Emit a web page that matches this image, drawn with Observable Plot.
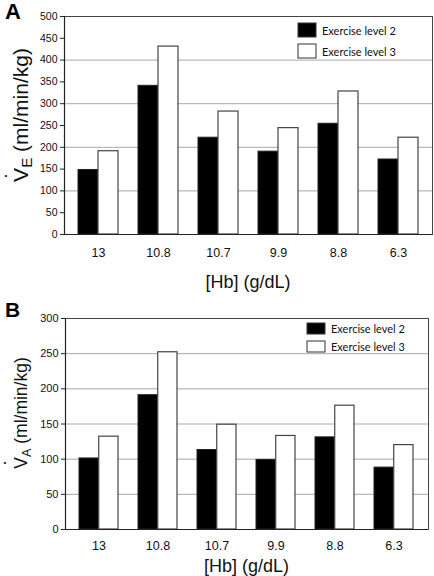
<!DOCTYPE html>
<html><head><meta charset="utf-8">
<script src="https://cdn.jsdelivr.net/npm/d3@7"></script>
<script src="https://cdn.jsdelivr.net/npm/@observablehq/plot@0.6"></script>
<style>
html,body{margin:0;padding:0;background:#fff;}
#root{width:434px;height:576px;position:relative;overflow:hidden;background:#fff;}
#root svg{display:block;position:absolute;left:0;overflow:visible;}
</style></head><body><div id="root"></div>
<script>
// ---- data ----
const hb = ["13", "10.8", "10.7", "9.9", "8.8", "6.3"];
const seriesNames = ["Exercise level 2", "Exercise level 3"];
const veLevel2 = [148, 341, 222, 190, 254, 172];
const veLevel3 = [191, 431, 282, 244, 328, 222];
const vaLevel2 = [101, 191, 113, 99, 131, 88];
const vaLevel3 = [132, 252, 149, 133, 176, 120];
const veTicks = [0, 50, 100, 150, 200, 250, 300, 350, 400, 450, 500];
const veGrid = [100, 200, 300, 400];
const vaTicks = [0, 50, 100, 150, 200, 250, 300];
const vaGrid = [50, 100, 150, 200, 250];

const FONT = "'Liberation Sans', Arial, Helvetica, sans-serif";
const root = d3.select("#root");

function panel(cfg) {
  const {top, height, mt, mb, ml, mr, ymax, ticks, grid, v2, v3, yFont, xFont, xPad,
         letter, letterY, letterSize, sub, ylabX, ylabY, ylabSize, dotX, dotY,
         xlabY, legX, legY, legGap, swW, swH} = cfg;
  const pi = 1 / 3, po = 0.233;
  const step = (434 - ml - mr) / (hb.length - pi + 2 * po);
  const bw = step * (1 - pi);
  const d2 = hb.map((h, i) => ({hb: h, v: v2[i]}));
  const d3v = hb.map((h, i) => ({hb: h, v: v3[i]}));
  const plot = Plot.plot({
    width: 434, height, marginTop: mt, marginBottom: mb, marginLeft: ml, marginRight: mr,
    style: {fontFamily: FONT, background: "transparent", color: "#111", overflow: "visible"},
    x: {domain: hb, paddingInner: pi, paddingOuter: po, align: 0.5, label: null},
    y: {domain: [0, ymax], label: null},
    marks: [
      Plot.ruleY(grid, {stroke: "#a8a8a8", strokeWidth: 1}),
      Plot.frame({stroke: "#444", strokeWidth: 1}),
      Plot.barY(d2, {x: "hb", y: "v", fill: "#000", stroke: "#222", strokeWidth: 1, insetRight: bw / 2}),
      Plot.barY(d3v, {x: "hb", y: "v", fill: "#fff", stroke: "#444", strokeWidth: 1.2, insetLeft: bw / 2}),
      Plot.axisY({ticks, tickSize: 4, tickPadding: 3, fontSize: yFont, label: null, stroke: "#222"}),
      Plot.axisX({tickSize: 0, tickPadding: xPad, fontSize: xFont, label: null}),
      Plot.ruleY([0], {stroke: "#222", strokeWidth: 1.2}),
      Plot.frame({anchor: "left", stroke: "#222", strokeWidth: 1.2})
    ]
  });
  root.node().appendChild(plot);
  const svg = d3.select(plot).style("top", top + "px");

  // panel letter
  svg.append("text").attr("x", 5).attr("y", letterY).attr("text-anchor", "start")
    .style("font-family", FONT).style("font-weight", "bold").style("font-size", letterSize + "px")
    .attr("fill", "#000").text(letter);

  // y label
  const t = svg.append("text")
    .attr("transform", `translate(${ylabX},${ylabY}) rotate(-90)`)
    .attr("text-anchor", "middle").attr("fill", "#111")
    .style("font-family", FONT).style("font-size", ylabSize + "px").style("white-space", "pre");
  t.append("tspan").text("V");
  t.append("tspan").attr("font-size", ylabSize * 0.72).attr("dy", 4).text(sub);
  t.append("tspan").attr("dy", -4).text(" (ml/min/kg)");
  svg.append("text").attr("x", dotX).attr("y", dotY)
    .attr("text-anchor", "middle").attr("dominant-baseline", "central")
    .style("font-family", FONT).style("font-size", "8px").attr("fill", "#111").text("\u2022");

  // x label
  svg.append("text").attr("x", ml + (434 - ml - mr) / 2).attr("y", xlabY)
    .attr("text-anchor", "middle").attr("fill", "#111")
    .style("font-family", FONT).style("font-size", "18px").text("[Hb] (g/dL)");

  // legend
  seriesNames.forEach((name, i) => {
    const y = legY + i * legGap;
    svg.append("rect").attr("x", legX).attr("y", y).attr("width", swW).attr("height", swH)
      .attr("fill", i === 0 ? "#000" : "#fff").attr("stroke", "#333").attr("stroke-width", 1);
    svg.append("text").attr("x", legX + swW + 6).attr("y", y + swH / 2)
      .attr("text-anchor", "start")
      .attr("dominant-baseline", "central").attr("fill", "#111")
      .style("font-family", "Lato, 'Open Sans', sans-serif").style("font-size", "11px").text(name);
  });
}

panel({top: 0, height: 300, mt: 16, mb: 66, ml: 64, mr: 2, ymax: 500, ticks: veTicks, grid: veGrid,
  v2: veLevel2, v3: veLevel3, yFont: 10.5, xFont: 12.5, xPad: 14,
  letter: "A", letterY: 19, letterSize: 22, sub: "E", ylabX: 28, ylabY: 115, ylabSize: 21,
  dotX: 6, dotY: 175, xlabY: 288, legX: 298, legY: 23, legGap: 21, swW: 18, swH: 14});

panel({top: 290, height: 286, mt: 28, mb: 47, ml: 65, mr: 6, ymax: 300, ticks: vaTicks, grid: vaGrid,
  v2: vaLevel2, v3: vaLevel3, yFont: 11, xFont: 12.5, xPad: 12,
  letter: "B", letterY: 27, letterSize: 21, sub: "A", ylabX: 27, ylabY: 123, ylabSize: 17.5,
  dotX: 5, dotY: 172, xlabY: 282, legX: 307, legY: 33, legGap: 18, swW: 18, swH: 11});
</script></body></html>
